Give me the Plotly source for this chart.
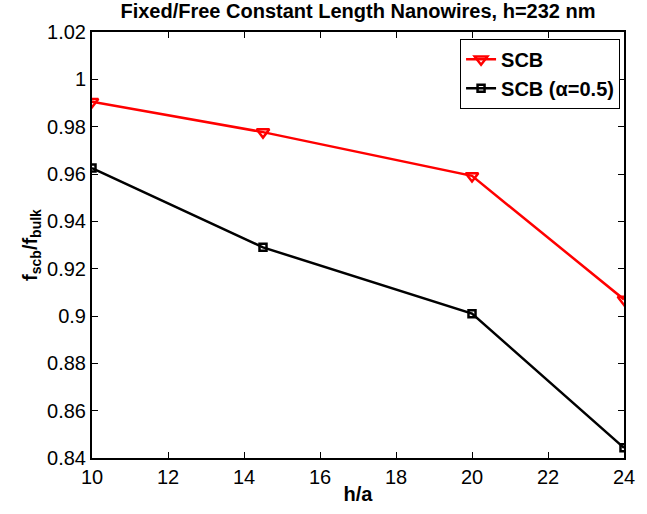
import plotly.graph_objects as go

# Normalised frequency vs. aspect ratio
h_over_a = [10, 14.5, 20, 24]
scb = [0.9905, 0.9777, 0.9592, 0.9070]
scb_alpha = [0.9625, 0.9290, 0.9010, 0.8443]

x_ticks = [10, 12, 14, 16, 18, 20, 22, 24]
y_ticks = [0.84, 0.86, 0.88, 0.90, 0.92, 0.94, 0.96, 0.98, 1.00, 1.02]
y_tick_text = ["0.84", "0.86", "0.88", "0.9", "0.92", "0.94", "0.96", "0.98", "1", "1.02"]

FONT = "Liberation Sans, Arial, Helvetica, sans-serif"

fig = go.Figure()
fig.add_trace(go.Scatter(
    x=h_over_a, y=scb, name="<b>SCB</b>", mode="lines+markers",
    line=dict(color="#ff0000", width=2.5),
    marker=dict(symbol="triangle-down-open", size=11, color="#ff0000",
                line=dict(width=2.5, color="#ff0000")),
))
fig.add_trace(go.Scatter(
    x=h_over_a, y=scb_alpha, name="<b>SCB (\u03b1=0.5)</b>", mode="lines+markers",
    line=dict(color="#000000", width=2.5),
    marker=dict(symbol="square-open", size=7, color="#000000",
                line=dict(width=2.5, color="#000000")),
))

axis_common = dict(
    showgrid=False, zeroline=False, showline=True, linecolor="black",
    linewidth=2, mirror="ticks", ticks="inside", ticklen=6,
    tickcolor="black", tickfont=dict(family=FONT, size=20, color="black"),
)

fig.update_layout(
    width=647, height=514,
    margin=dict(l=92, r=13, t=32, b=52),
    paper_bgcolor="white", plot_bgcolor="white",
    font=dict(family=FONT, color="black"),
    title=dict(text="<b>Fixed/Free Constant Length Nanowires, h=232 nm</b>",
               x=0.5, xref="paper", xanchor="center", y=0.978, yanchor="middle",
               font=dict(family=FONT, size=20, color="black")),
    xaxis=dict(range=[10, 24], tickvals=x_ticks,
               title=dict(text="<b>h/a</b>", font=dict(family=FONT, size=20), standoff=0),
               **axis_common),
    yaxis=dict(range=[0.84, 1.02], tickvals=y_ticks, ticktext=y_tick_text,
               title=dict(text="<b>f<sub>scb</sub>/f<sub>bulk</sub></b>",
                          font=dict(family=FONT, size=20), standoff=4),
               **axis_common),
    legend=dict(x=0.9926, xanchor="right", y=0.984, yanchor="top",
                bgcolor="white", bordercolor="black", borderwidth=1,
                font=dict(family=FONT, size=20, color="black"),
                tracegroupgap=0, itemwidth=30),
    showlegend=True,
)

fig.write_html("out.html")
